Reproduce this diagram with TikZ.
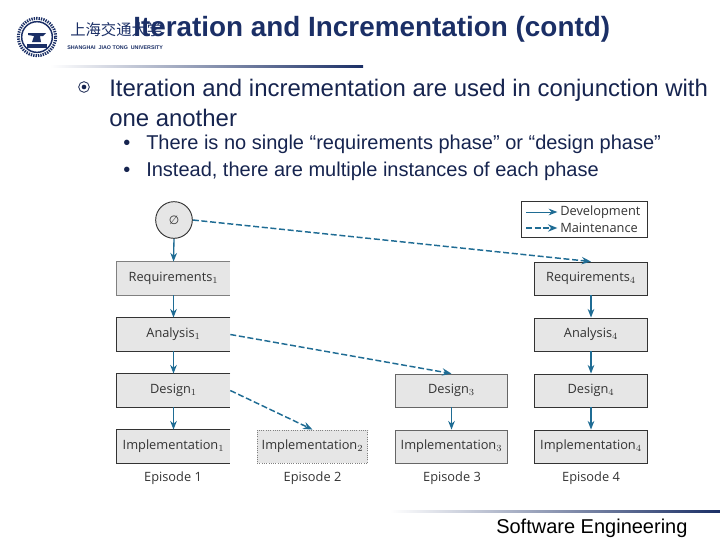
\documentclass[tikz,border=0pt]{standalone}
\usepackage{fontspec}
\setmainfont{Liberation Sans}
\newfontfamily\diagfont{Open Sans}
\newfontfamily\cjkfont{Noto Sans CJK SC}
\newfontfamily\symfont{DejaVu Sans}
\usetikzlibrary{arrows.meta,shadings}
\definecolor{navy}{HTML}{1B2F66}
\definecolor{bodyink}{HTML}{16244F}
\definecolor{flow}{HTML}{1F6C94}
\definecolor{boxfill}{HTML}{E6E6E6}
\definecolor{boxline}{HTML}{333333}
\definecolor{labelink}{HTML}{333333}
\tikzset{
  x=0.75pt,y=-0.75pt,
  phase/.style={fill=boxfill,draw=boxline,line width=0.7pt,minimum width=84.5pt,minimum height=24.7pt,inner sep=0pt,text height=6pt,text depth=0.8pt,text=labelink,font=\diagfont\fontsize{9.6}{11}\selectfont},
  openphase/.style={phase,draw=none},
  ghostphase/.style={phase,draw=gray,densely dotted,minimum width=83pt},
  episode/.style={text=labelink,inner sep=0pt,font=\diagfont\fontsize{9.6}{11}\selectfont},
  dev/.style={draw=flow,line width=1pt,-{Stealth[length=6.5pt,width=5pt]}},
  maint/.style={draw=flow,line width=1.1pt,dash pattern=on 4.5pt off 2pt,-{Stealth[length=7pt,width=5.5pt]}},
  lefttext/.style={anchor=west,inner sep=0pt},
}
\begin{document}
\begin{tikzpicture}
\useasboundingbox (0,0) rectangle (720,540);
% logo
\node[circle,draw=navy,line width=2.2pt,dash pattern=on 1pt off 0.8pt,minimum size=28pt,inner sep=0pt] (seal) at (37,37) {};
\node[circle,draw=navy,line width=1.1pt,fill=white,minimum size=23pt,inner sep=0pt] (sealin) at (37,37) {};
\fill[navy] (28,33) -- (46,33) -- (43,36) -- (40,36) -- (41,42) -- (32,42) -- (34,36) -- (28,35) -- cycle;
\fill[navy] (27,44) rectangle (47,48);
\node[lefttext,text=navy,font=\cjkfont\fontsize{11.5}{14}\selectfont] (cjk) at (70,30) {上海交通大学};
\node[lefttext,text=navy,font=\bfseries\fontsize{4}{5}\selectfont] (sjtu) at (67,48) {SHANGHAI\ \ JIAO TONG\ \ UNIVERSITY};
% title
\node[lefttext,text=navy,font=\bfseries\fontsize{20.9}{24}\selectfont] (title) at (133,29.5) {Iteration and Incrementation (contd)};
\shade[left color=white,right color=navy] (50,65) rectangle (363,67.5);
\shade[left color=white,right color=navy] (390,510) rectangle (720,512.5);
% body
\node[circle,draw=bodyink,line width=0.6pt,minimum size=8pt,inner sep=0pt] (bullet) at (84,87) {};
\node[circle,fill=bodyink,minimum size=3.5pt,inner sep=0pt] (bulletdot) at (84,87) {};
\node[lefttext,text=bodyink,font=\fontsize{17.95}{20}\selectfont] (l1) at (109,90.5) {Iteration and incrementation are used in conjunction with};
\node[lefttext,text=bodyink,font=\fontsize{17.95}{20}\selectfont] (l2) at (109,117.5) {one another};
\node[lefttext,text=bodyink,font=\fontsize{15}{17}\selectfont] (b1) at (123,144.5) {•};
\node[lefttext,text=bodyink,font=\fontsize{15}{17}\selectfont] (s1) at (146,144.5) {There is no single “requirements phase” or “design phase”};
\node[lefttext,text=bodyink,font=\fontsize{15}{17}\selectfont] (b2) at (123,171.5) {•};
\node[lefttext,text=bodyink,font=\fontsize{15}{17}\selectfont] (s2) at (146,171.5) {Instead, there are multiple instances of each phase};
% start
\node[circle,draw=boxline,fill=boxfill,line width=0.7pt,minimum size=27.5pt,inner sep=0pt,text=labelink,font=\symfont\fontsize{9}{10}\selectfont] (start) at (174,220) {∅};
% column 1
\node[openphase] (r1) at (173.5,278.5) {Requirements$_1$};
\node[openphase] (a1) at (173.5,334.5) {Analysis$_1$};
\node[openphase] (d1) at (173.5,390.5) {Design$_1$};
\node[openphase] (i1) at (173.5,446.5) {Implementation$_1$};
\draw[draw=gray,line width=0.7pt] (r1.north east) -- (r1.north west) -- (r1.south west) -- (r1.south east);
\foreach \n in {a1,d1,i1}
  \draw[draw=boxline,line width=0.7pt] (\n.north east) -- (\n.north west) -- (\n.south west) -- (\n.south east);
% column 2
\node[ghostphase] (i2) at (312.5,446.5) {Implementation$_2$};
% column 3
\node[phase,draw=gray!80!black] (d3) at (451.5,390.5) {Design$_3$};
\node[phase,draw=gray!80!black] (i3) at (451.5,446.5) {Implementation$_3$};
% column 4
\node[phase] (r4) at (591,278.5) {Requirements$_4$};
\node[phase] (a4) at (591,334.5) {Analysis$_4$};
\node[phase] (d4) at (591,390.5) {Design$_4$};
\node[phase] (i4) at (591,446.5) {Implementation$_4$};
% episodes
\node[episode] (e1) at (173,478) {Episode 1};
\node[episode] (e2) at (312.5,478) {Episode 2};
\node[episode] (e3) at (452,478) {Episode 3};
\node[episode] (e4) at (591,478) {Episode 4};
% development arrows
\draw[dev] (start.south) -- (r1.north);
\draw[dev] (r1.south) -- (a1.north);
\draw[dev] (a1.south) -- (d1.north);
\draw[dev] (d1.south) -- (i1.north);
\draw[dev] (d3.south) -- (i3.north);
\draw[dev] (r4.south) -- (a4.north);
\draw[dev] (a4.south) -- (d4.north);
\draw[dev] (d4.south) -- (i4.north);
% maintenance arrows
\draw[maint] (start.east) -- (r4.north);
\draw[maint] (a1.east) -- (d3.north);
\draw[maint] (d1.east) -- (i2.north);
% legend
\node[draw=boxline,fill=white,line width=0.6pt,minimum width=95pt,minimum height=27pt,inner sep=0pt] (legend) at (584.5,219) {};
\node[lefttext,text=labelink,font=\diagfont\fontsize{9.6}{11}\selectfont] (ldev) at (560,212) {Development};
\node[lefttext,text=labelink,font=\diagfont\fontsize{9.6}{11}\selectfont] (lmaint) at (560,228) {Maintenance};
\coordinate (ld0) at (526,212);
\coordinate (lm0) at (526,228);
\draw[dev,line width=0.7pt,shorten >=2pt] (ld0) -- (ldev.west);
\draw[maint,shorten >=2pt] (lm0) -- (lmaint.west);
% footer
\node[lefttext,text=black,font=\fontsize{15}{17}\selectfont] (footer) at (496,528) {Software Engineering};
\end{tikzpicture}
\end{document}
